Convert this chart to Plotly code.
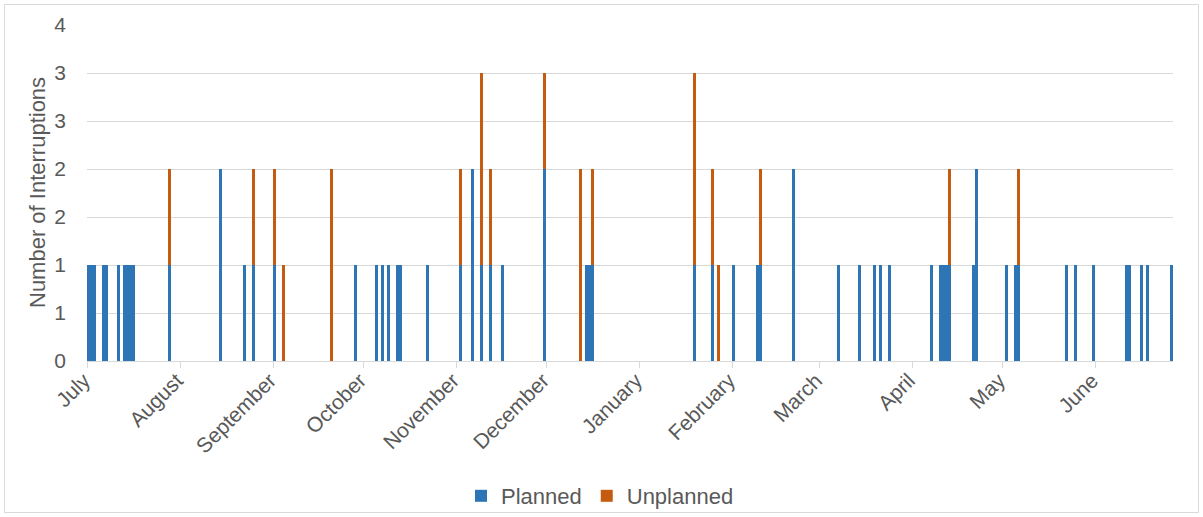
import plotly.graph_objects as go

# Daily interruption counts for the year (only days with at least one interruption)
dates = [
    "2019-07-01", "2019-07-02", "2019-07-03", "2019-07-06", "2019-07-07",
    "2019-07-11", "2019-07-13", "2019-07-14", "2019-07-15", "2019-07-16",
    "2019-07-28", "2019-08-14", "2019-08-22", "2019-08-25", "2019-09-01",
    "2019-09-04", "2019-09-20", "2019-09-28", "2019-10-05", "2019-10-07",
    "2019-10-09", "2019-10-12", "2019-10-13", "2019-10-22", "2019-11-02",
    "2019-11-06", "2019-11-09", "2019-11-12", "2019-11-16", "2019-11-30",
    "2019-12-12", "2019-12-14", "2019-12-15", "2019-12-16", "2020-01-19",
    "2020-01-25", "2020-01-27", "2020-02-01", "2020-02-09", "2020-02-10",
    "2020-02-21", "2020-03-07", "2020-03-14", "2020-03-19", "2020-03-21",
    "2020-03-24", "2020-04-07", "2020-04-10", "2020-04-11", "2020-04-12",
    "2020-04-13", "2020-04-21", "2020-04-22", "2020-05-02", "2020-05-05",
    "2020-05-06", "2020-05-22", "2020-05-25", "2020-05-31", "2020-06-11",
    "2020-06-12", "2020-06-16", "2020-06-18", "2020-06-26",
]
planned = [
    1, 1, 1, 1, 1,
    1, 1, 1, 1, 1,
    1, 2, 1, 1, 1,
    0, 0, 1, 1, 1,
    1, 1, 1, 1, 1,
    2, 1, 1, 1, 2,
    0, 1, 1, 1, 1,
    1, 0, 1, 1, 1,
    2, 1, 1, 1, 1,
    1, 1, 1, 1, 1,
    1, 1, 2, 1, 1,
    1, 1, 1, 1, 1,
    1, 1, 1, 1,
]
unplanned = [
    0, 0, 0, 0, 0,
    0, 0, 0, 0, 0,
    1, 0, 0, 1, 1,
    1, 2, 0, 0, 0,
    0, 0, 0, 0, 1,
    0, 2, 1, 0, 1,
    2, 0, 0, 1, 2,
    1, 1, 0, 0, 1,
    0, 0, 0, 0, 0,
    0, 0, 0, 0, 0,
    1, 0, 0, 0, 0,
    1, 0, 0, 0, 0,
    0, 0, 0, 0,
]

month_starts = [
    "2019-07-01", "2019-08-01", "2019-09-01", "2019-10-01", "2019-11-01",
    "2019-12-01", "2020-01-01", "2020-02-01", "2020-03-01", "2020-04-01",
    "2020-05-01", "2020-06-01",
]
month_labels = [
    "July", "August", "September", "October", "November", "December",
    "January", "February", "March", "April", "May", "June",
]

y_ticks = [0, 0.5, 1, 1.5, 2, 2.5, 3, 3.5]
y_labels = ["0", "1", "1", "2", "2", "3", "3", "4"]

DAY_MS = 86400000
FONT = "Liberation Sans, Arial, sans-serif"
TEXT = "#595959"
GRID = "#d9d9d9"

W, H = 1203, 517
L, R, T, B = 87, 30, 25, 156
PW, PH = W - L - R, H - T - B

fig = go.Figure()
fig.add_trace(go.Bar(
    x=dates, y=planned, name="Planned",
    width=0.92 * DAY_MS, offset=0.04 * DAY_MS,
    marker=dict(color="#2E75B6", line=dict(width=0)),
))
fig.add_trace(go.Bar(
    x=dates, y=unplanned, name="Unplanned",
    width=0.92 * DAY_MS, offset=0.04 * DAY_MS,
    marker=dict(color="#C55A11", line=dict(width=0)),
))

fig.update_layout(
    width=W, height=H,
    margin=dict(l=L, r=R, t=T, b=B, autoexpand=False),
    barmode="stack",
    bargap=0,
    plot_bgcolor="white",
    paper_bgcolor="white",
    font=dict(family=FONT, size=21, color=TEXT),
    showlegend=True,
    legend=dict(
        orientation="h",
        x=(600 - L) / PW, xanchor="center",
        y=(T + PH - 496) / PH, yanchor="middle",
        font=dict(size=22, color=TEXT),
        bgcolor="rgba(0,0,0,0)",
        itemwidth=30,
        traceorder="normal",
    ),
    xaxis=dict(
        type="date",
        range=["2019-07-01", "2020-06-27"],
        tickmode="array",
        tickvals=month_starts,
        ticktext=month_labels,
        tickangle=-45,
        ticks="outside",
        ticklen=6,
        tickcolor=GRID,
        ticklabelstandoff=-8,
        ticklabelshift=-3,
        showgrid=False,
        showline=True,
        linecolor=GRID,
        linewidth=1,
        zeroline=False,
        tickfont=dict(size=21, color=TEXT),
    ),
    yaxis=dict(
        range=[0, 3.5],
        tickmode="array",
        tickvals=y_ticks,
        ticktext=y_labels,
        showgrid=True,
        gridcolor=GRID,
        gridwidth=1,
        zeroline=False,
        showline=False,
        ticks="",
        ticklabelstandoff=20,
        tickfont=dict(size=21, color=TEXT),
    ),
    annotations=[dict(
        text="Number of Interruptions",
        textangle=-90,
        xref="paper", yref="paper",
        x=(37 - L) / PW, y=0.5,
        xanchor="center", yanchor="middle",
        showarrow=False,
        font=dict(size=22, color=TEXT),
    )],
    shapes=[dict(
        type="rect", xref="paper", yref="paper",
        x0=(4.5 - L) / PW, x1=(1198.5 - L) / PW,
        y0=(T + PH - 512.5) / PH, y1=(T + PH - 4.5) / PH,
        line=dict(color=GRID, width=1),
        fillcolor="rgba(0,0,0,0)",
        layer="below",
    )],
)

fig.write_html("out.html")
